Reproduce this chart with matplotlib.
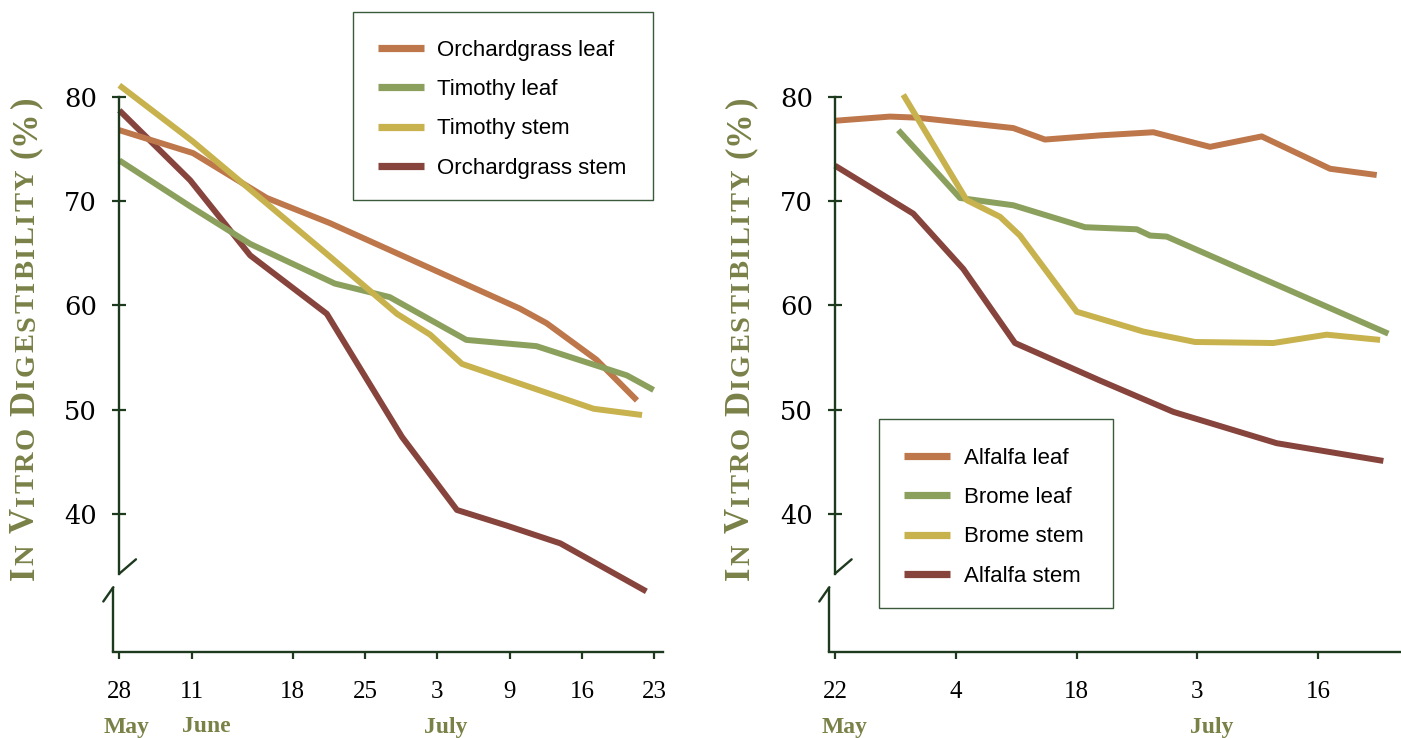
import matplotlib
matplotlib.use("Agg")
import matplotlib.pyplot as plt
from matplotlib.patches import Rectangle
from matplotlib.transforms import IdentityTransform

# ---- data (x = position along the date axis, tick = 1 unit) ----
left_ticks = [0, 1, 2.4, 3.4, 4.4, 5.4, 6.4, 7.4]
left_ticklabels = ["28", "11", "18", "25", "3", "9", "16", "23"]
left_months = ["May", "June", "July"]
left_month_pos = [0, 1, 4.4]

og_leaf_x = [0, 1.02, 2.04, 2.91, 5.54, 5.91, 6.60, 7.16]
og_leaf_y = [76.8, 74.6, 70.3, 67.9, 59.7, 58.3, 54.8, 50.9]
tim_leaf_x = [0, 0.98, 1.81, 2.98, 3.74, 4.80, 5.77, 7.02, 7.39]
tim_leaf_y = [73.9, 69.5, 65.9, 62.1, 60.8, 56.7, 56.1, 53.3, 51.9]
tim_stem_x = [0, 1.02, 2.91, 3.84, 4.30, 4.74, 6.56, 7.23]
tim_stem_y = [81.1, 75.7, 64.7, 59.2, 57.2, 54.4, 50.1, 49.5]
og_stem_x = [0, 0.98, 1.81, 2.87, 3.91, 4.67, 5.36, 6.10, 7.29]
og_stem_y = [78.7, 72.0, 64.8, 59.2, 47.4, 40.4, 38.9, 37.2, 32.6]

right_ticks = [0, 1, 2, 3, 4]
right_ticklabels = ["22", "4", "18", "3", "16"]
right_months = ["May", "July"]
right_month_pos = [0, 3]

alf_leaf_x = [0, 0.455, 0.676, 1.476, 1.738, 2.194, 2.635, 3.104, 3.532, 4.098, 4.484]
alf_leaf_y = [77.7, 78.1, 78.0, 77.0, 75.9, 76.3, 76.6, 75.2, 76.2, 73.1, 72.5]
brome_leaf_x = [0.524, 1.035, 1.476, 2.070, 2.498, 2.608, 2.746, 4.580]
brome_leaf_y = [76.8, 70.3, 69.6, 67.5, 67.3, 66.7, 66.6, 57.3]
brome_stem_x = [0.565, 1.090, 1.366, 1.531, 2.001, 2.552, 2.980, 3.628, 4.070, 4.512]
brome_stem_y = [80.2, 70.1, 68.5, 66.7, 59.4, 57.5, 56.5, 56.4, 57.2, 56.7]
alf_stem_x = [0, 0.648, 1.062, 1.490, 2.194, 2.801, 3.656, 4.539]
alf_stem_y = [73.4, 68.8, 63.5, 56.4, 52.8, 49.8, 46.8, 45.1]

yticks = [40, 50, 60, 70, 80]

# ---- style ----
C_LEAF1 = "#bd774b"
C_LEAF2 = "#8ca05d"
C_STEM1 = "#c8b24e"
C_STEM2 = "#87443d"
AXC = "#1d3a1f"
OLIVE = "#7a8147"

W, H = 1401, 738
YMIN, YMAX = 26.79, 85.44
YBREAK_TOP, YBREAK_LOW = 34.3, 33.0

fig = plt.figure(figsize=(W / 100, H / 100), dpi=100)


def fx(px):
    return px / W


def fy(py):
    return 1 - py / H


def make_axes(left_px, right_px, xlim, ticks, ticklabels, months, month_pos, month_dx):
    ax = fig.add_axes([fx(left_px), fy(652), (right_px - left_px) / W, (652 - 40) / H])
    ax.set_xlim(xlim)
    ax.set_ylim(YMIN, YMAX)
    for s in ["top", "right"]:
        ax.spines[s].set_visible(False)
    ax.spines["left"].set_position(("data", 0))
    ax.spines["left"].set_bounds(YBREAK_TOP, 80)
    for s in ["left", "bottom"]:
        ax.spines[s].set_color(AXC)
        ax.spines[s].set_linewidth(1.7)
    ax.set_yticks(yticks, labels=[str(v) for v in yticks], fontfamily="DejaVu Serif", fontsize=18.5)
    ax.set_xticks(ticks, labels=ticklabels, fontfamily="Liberation Serif", fontsize=18)
    ax.tick_params(axis="y", direction="inout", length=10, width=1.6, color=AXC, pad=11)
    ax.tick_params(axis="x", direction="out", length=5, width=1.6, color=AXC, pad=16)
    # lower piece of the broken y axis
    ax.plot([xlim[0], xlim[0]], [YMIN, YBREAK_LOW], color=AXC, lw=1.7, clip_on=False,
            solid_capstyle="butt")
    arrow = dict(arrowstyle="-", color=AXC, lw=1.7, shrinkA=0, shrinkB=0)
    ax.annotate("", xy=(0, YBREAK_TOP), xytext=(12, 10.3), textcoords="offset points",
                arrowprops=arrow, annotation_clip=False)
    ax.annotate("", xy=(xlim[0], YBREAK_LOW), xytext=(-7.2, -10.3), textcoords="offset points",
                arrowprops=arrow, annotation_clip=False)
    for m, p, dx in zip(months, month_pos, month_dx):
        ax.annotate(m, xy=(p, 0), xycoords=("data", "axes fraction"), xytext=(dx, -54),
                    textcoords="offset points", ha="left", va="center", color=OLIVE,
                    fontfamily="Liberation Serif", fontweight="bold", fontsize=17)
    return ax


def line(ax, x, y, c, label):
    return ax.plot(x, y, color=c, lw=4.3, solid_capstyle="butt", solid_joinstyle="round",
                   label=label)[0]


def small_caps_label(x_px, y_px, parts, big=25, small=20.5, track=2.0, gap=9):
    # vertical small-caps label, built one letter at a time from the bottom up
    renderer = fig.canvas.get_renderer()
    y = H - y_px
    for text, kind in parts:
        if kind == "gap":
            y += gap
            continue
        for ch in text:
            t = fig.text(x_px, y, ch, transform=IdentityTransform(), rotation=90,
                         rotation_mode="anchor", ha="left", va="baseline",
                         fontsize=big if kind == "big" else small, fontweight="bold",
                         fontfamily="Liberation Serif", color=OLIVE)
            y += t.get_window_extent(renderer).height + track


def legend_box(handles, x0, y0, x1, y1, hx, hy):
    fig.patches.append(Rectangle((fx(x0), fy(y1)), fx(x1) - fx(x0), fy(y0) - fy(y1),
                                 transform=fig.transFigure, facecolor="white",
                                 edgecolor="#3b5a3b", lw=1.0, zorder=5))
    leg = fig.legend(handles=handles, loc="upper left", bbox_to_anchor=(fx(hx), fy(hy)),
                     frameon=False, borderpad=0, borderaxespad=0, handlelength=2.05,
                     handletextpad=0.62, labelspacing=0.82,
                     prop={"family": "Liberation Sans", "size": 16})
    leg.set_zorder(6)
    for h in leg.legend_handles:
        h.set_linewidth(5.2)


# ---- left panel ----
axl = make_axes(113.3, 663, (-0.083, 7.52), left_ticks, left_ticklabels,
                left_months, left_month_pos, [-11.5, -6.7, -9.5])
h1 = [
    line(axl, og_leaf_x, og_leaf_y, C_LEAF1, "Orchardgrass leaf"),
    line(axl, tim_leaf_x, tim_leaf_y, C_LEAF2, "Timothy leaf"),
    line(axl, tim_stem_x, tim_stem_y, C_STEM1, "Timothy stem"),
    line(axl, og_stem_x, og_stem_y, C_STEM2, "Orchardgrass stem"),
]
h1[3].set_zorder(1.5)

# ---- right panel ----
axr = make_axes(829.3, 1401, (-0.047, 4.685), right_ticks, right_ticklabels,
                right_months, right_month_pos, [-9.4, -5])
h2 = [
    line(axr, alf_leaf_x, alf_leaf_y, C_LEAF1, "Alfalfa leaf"),
    line(axr, brome_leaf_x, brome_leaf_y, C_LEAF2, "Brome leaf"),
    line(axr, brome_stem_x, brome_stem_y, C_STEM1, "Brome stem"),
    line(axr, alf_stem_x, alf_stem_y, C_STEM2, "Alfalfa stem"),
]

legend_box(h1, 352.7, 11.7, 653, 200, 378, 40)
legend_box(h2, 879, 419.3, 1112.7, 608.3, 904.3, 448)

label_parts = [("I", "big"), ("N", "small"), ("", "gap"), ("V", "big"), ("ITRO", "small"),
               ("", "gap"), ("D", "big"), ("IGESTIBILITY", "small"), ("", "gap"),
               ("(%)", "big")]
small_caps_label(34, 580, label_parts)
small_caps_label(749, 580, label_parts)

fig.savefig("out.png", dpi=100)
